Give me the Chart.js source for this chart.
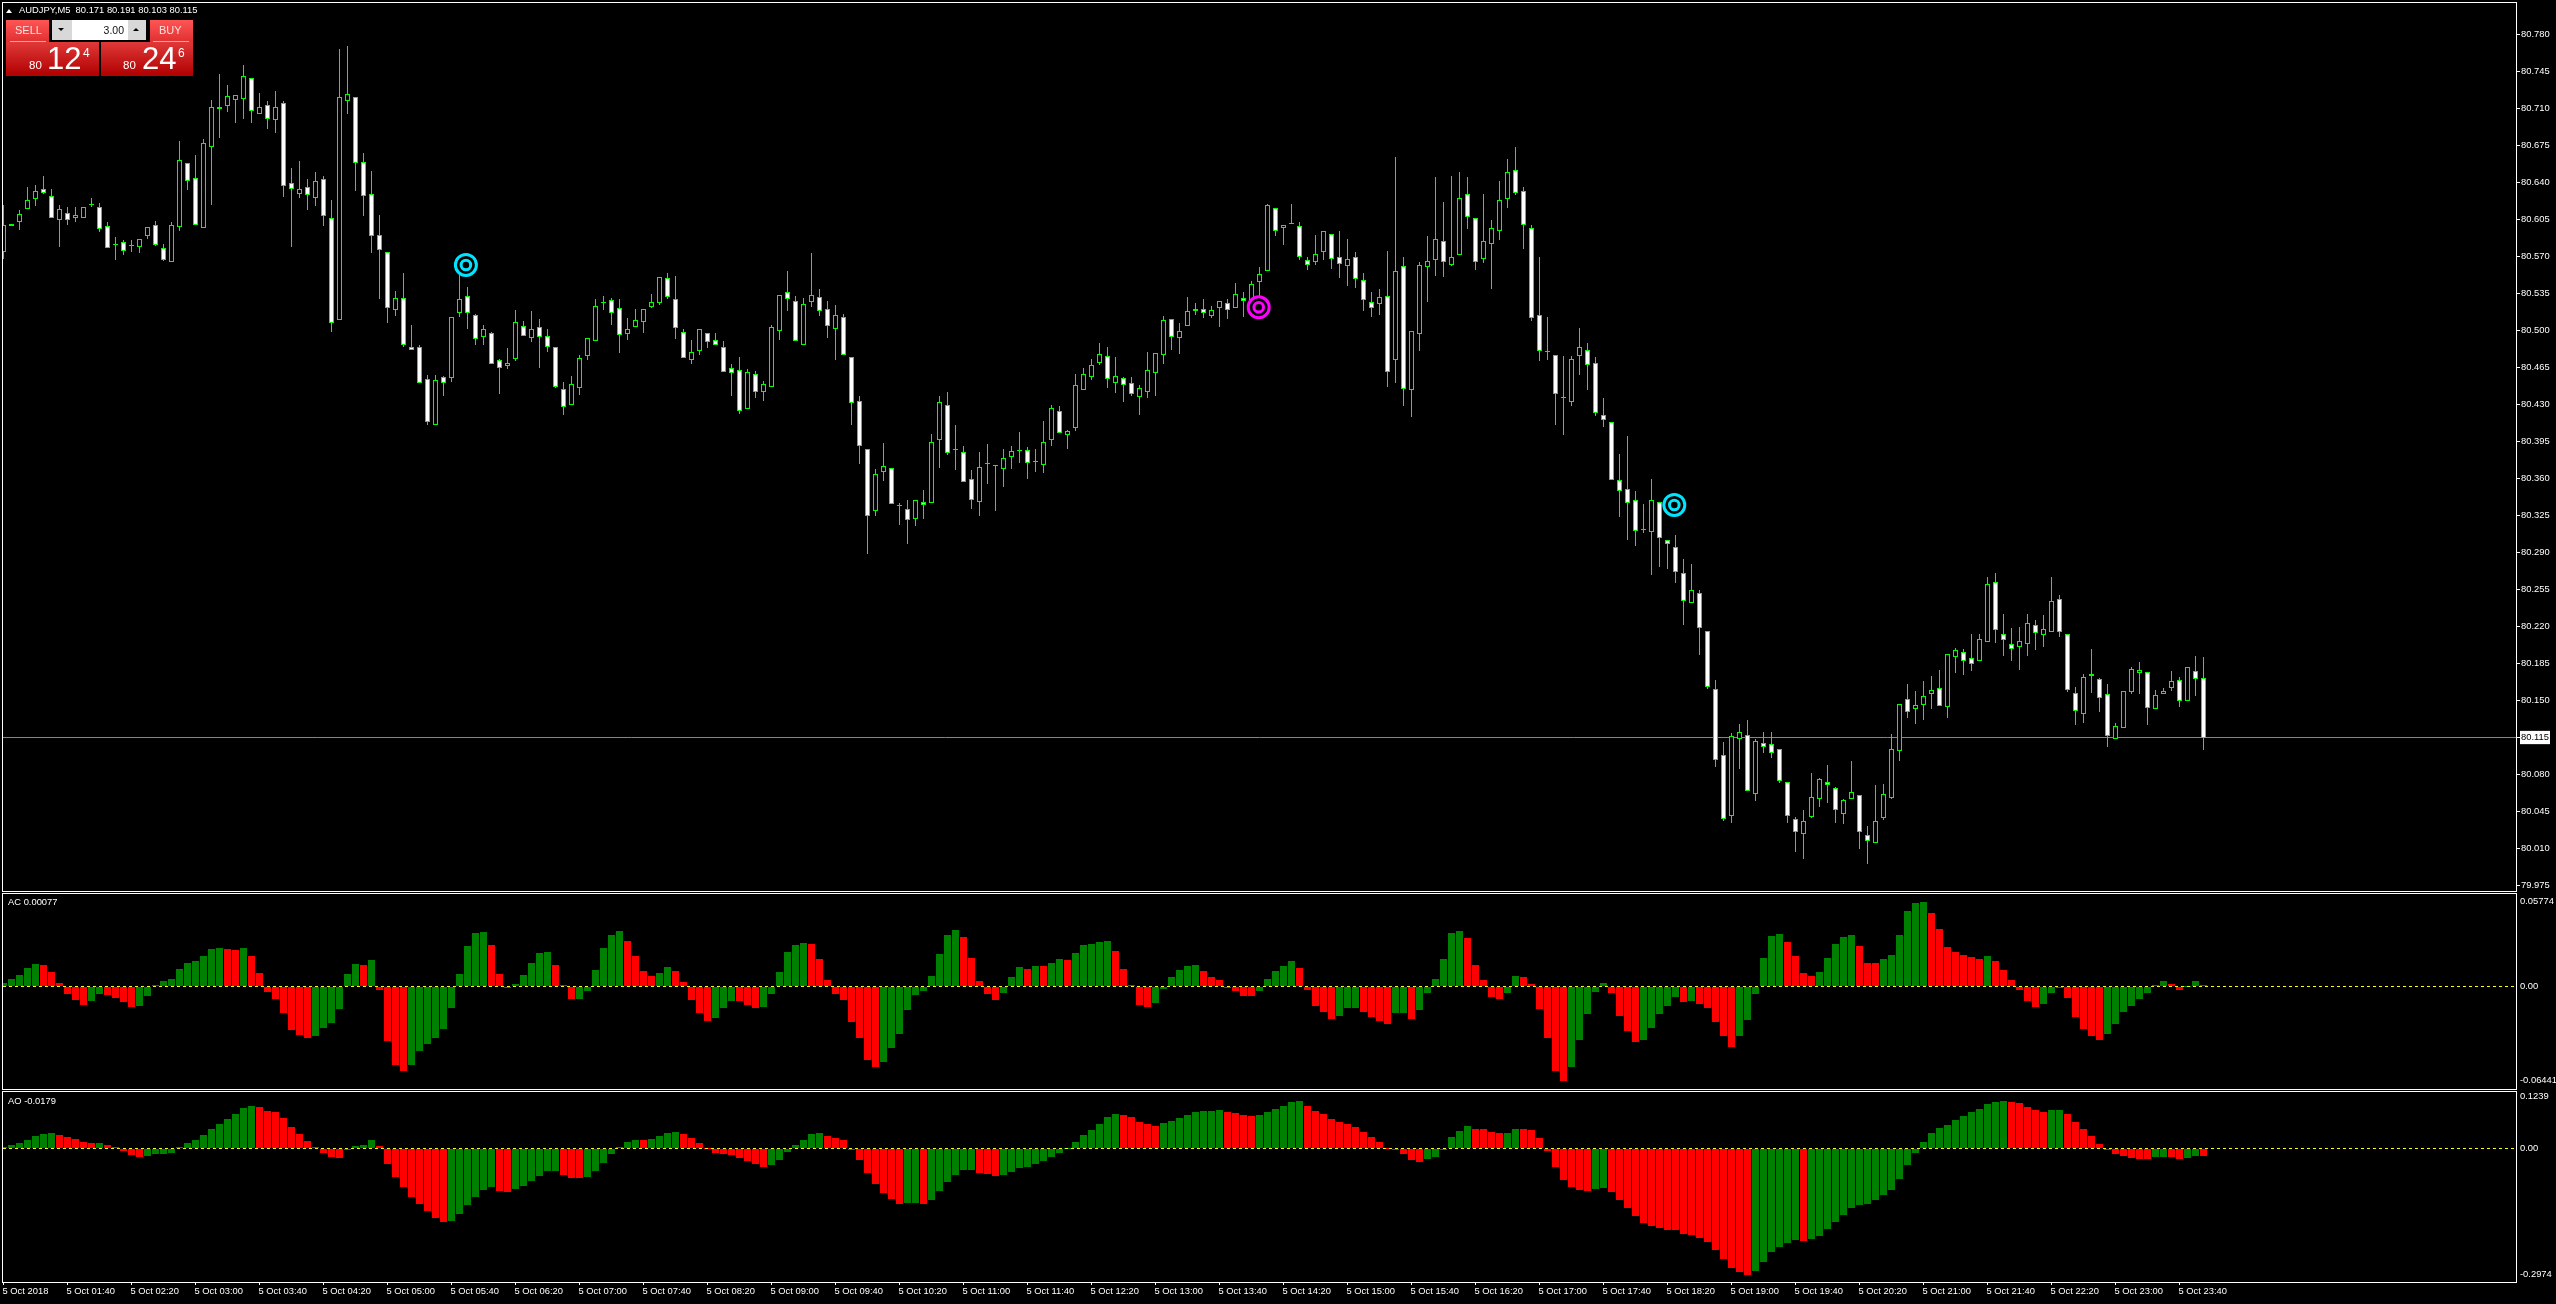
<!DOCTYPE html>
<html>
<head>
<meta charset="utf-8">
<title>AUDJPY,M5</title>
<script src="https://cdn.jsdelivr.net/npm/chart.js@4"></script>
<style>
html,body{margin:0;padding:0;background:#000;width:2556px;height:1304px;overflow:hidden}
canvas{position:absolute;left:0;display:block}
.t{position:absolute;font-family:"Liberation Sans",sans-serif;white-space:pre;line-height:1}
.b{position:absolute}
</style>
</head>
<body>
<canvas id="main" width="2556" height="892" style="top:0"></canvas>
<canvas id="ac" width="2556" height="198" style="top:892px"></canvas>
<canvas id="ao" width="2556" height="214" style="top:1090px"></canvas>

<div class="b" style="left:6px;top:9px;width:0;height:0;border-left:3.5px solid transparent;border-right:3.5px solid transparent;border-bottom:4px solid #fff"></div>
<div class="t" style="left:19px;top:5px;font-size:9.4px;color:#fff">AUDJPY,M5  80.171 80.191 80.103 80.115</div>

<div class="b" style="left:6px;top:20px;width:43px;height:22px;background:linear-gradient(#f55,#e03030)"></div>
<div class="b" style="left:10px;top:41px;width:36px;height:1px;background:#f8a0a0"></div>
<div class="t" style="left:15px;top:25px;font-size:11px;color:#fde0e0">SELL</div>
<div class="b" style="left:6px;top:42px;width:93px;height:34px;background:linear-gradient(#e03838,#b00000)"></div>
<div class="t" style="left:29px;top:60px;font-size:11.5px;color:#fff">80</div>
<div class="t" style="left:47px;top:43px;font-size:31px;color:#fff">12</div>
<div class="t" style="left:83px;top:47px;font-size:12px;color:#fff">4</div>

<div class="b" style="left:52px;top:20px;width:20px;height:20px;background:#d8d8d8"></div>
<div class="b" style="left:58px;top:28px;width:0;height:0;border-left:3px solid transparent;border-right:3px solid transparent;border-top:3px solid #000"></div>
<div class="b" style="left:72px;top:20px;width:56px;height:20px;background:#fff"></div>
<div class="t" style="left:72px;width:52px;top:25px;font-size:10.5px;color:#111;text-align:right">3.00</div>
<div class="b" style="left:128px;top:20px;width:18px;height:20px;background:#d8d8d8"></div>
<div class="b" style="left:133px;top:28px;width:0;height:0;border-left:3px solid transparent;border-right:3px solid transparent;border-bottom:3px solid #000"></div>

<div class="b" style="left:150px;top:20px;width:43px;height:22px;background:linear-gradient(#f55,#e03030)"></div>
<div class="b" style="left:153px;top:41px;width:36px;height:1px;background:#f8a0a0"></div>
<div class="t" style="left:159px;top:25px;font-size:11px;color:#fde0e0">BUY</div>
<div class="b" style="left:101px;top:42px;width:92px;height:34px;background:linear-gradient(#e03838,#b00000)"></div>
<div class="t" style="left:123px;top:60px;font-size:11.5px;color:#fff">80</div>
<div class="t" style="left:142px;top:43px;font-size:31px;color:#fff">24</div>
<div class="t" style="left:178px;top:47px;font-size:12px;color:#fff">6</div>

<div class="t" style="left:8px;top:897px;font-size:9.4px;color:#fff">AC 0.00077</div>
<div class="t" style="left:8px;top:1096px;font-size:9.4px;color:#fff">AO -0.0179</div>

<script>
const opens=[80.574,80.601,80.603,80.615,80.624,80.634,80.627,80.605,80.611,80.606,
80.606,80.619,80.617,80.599,80.582,80.584,80.581,80.579,80.589,80.600,
80.578,80.565,80.598,80.658,80.644,80.597,80.674,80.711,80.712,80.718,
80.719,80.739,80.705,80.713,80.699,80.715,80.640,80.629,80.636,80.625,
80.643,80.606,80.510,80.717,80.721,80.659,80.629,80.590,80.574,80.519,
80.531,80.484,80.484,80.454,80.411,80.456,80.455,80.517,80.533,80.515,
80.494,80.498,80.472,80.466,80.473,80.504,80.493,80.503,80.495,80.484,
80.445,80.430,80.446,80.476,80.490,80.527,80.529,80.521,80.497,80.503,
80.508,80.522,80.526,80.550,80.530,80.499,80.472,80.481,80.498,80.491,
80.484,80.465,80.463,80.426,80.459,80.442,80.447,80.500,80.536,80.528,
80.486,80.527,80.532,80.520,80.501,80.513,80.475,80.433,80.388,80.329,
80.366,80.370,80.334,80.331,80.322,80.338,80.337,80.396,80.430,80.388,
80.385,80.360,80.338,80.374,80.372,80.369,80.380,80.386,80.387,80.377,
80.373,80.396,80.424,80.401,80.408,80.444,80.456,80.469,80.476,80.450,
80.455,80.450,80.437,80.442,80.460,80.477,80.511,80.493,80.504,80.520,
80.520,80.514,80.521,80.526,80.521,80.531,80.529,80.546,80.556,80.616,
80.597,80.601,80.599,80.567,80.565,80.574,80.591,80.570,80.561,80.570,
80.548,80.527,80.525,80.533,80.472,80.561,80.444,80.497,80.560,80.567,
80.585,80.562,80.571,80.629,80.606,80.568,80.582,80.594,80.624,80.652,
80.632,80.597,80.515,80.481,80.477,80.437,80.432,80.476,80.482,80.469,
80.420,80.413,80.359,80.350,80.340,80.312,80.309,80.338,80.302,80.295,
80.271,80.242,80.252,80.216,80.161,80.098,80.041,80.114,80.117,80.062,
80.110,80.109,80.104,80.073,80.038,80.024,80.040,80.057,80.073,80.067,
80.043,80.057,80.061,80.023,80.015,80.039,80.058,80.102,80.151,80.142,
80.146,80.156,80.162,80.144,80.191,80.196,80.190,80.187,80.205,80.262,
80.213,80.203,80.201,80.203,80.221,80.212,80.215,80.246,80.213,80.157,
80.137,80.175,80.170,80.156,80.114,80.124,80.158,80.176,80.177,80.142,
80.156,80.162,80.169,80.150,80.178,80.171];
const closes=[80.600,80.599,80.610,80.623,80.632,80.630,80.606,80.615,80.605,80.609,
80.617,80.619,80.596,80.578,80.581,80.575,80.580,80.587,80.598,80.581,
80.567,80.600,80.661,80.641,80.600,80.677,80.711,80.710,80.722,80.723,
80.741,80.708,80.711,80.700,80.711,80.637,80.634,80.634,80.628,80.641,
80.608,80.507,80.721,80.724,80.658,80.627,80.589,80.576,80.521,80.531,
80.486,80.482,80.450,80.413,80.453,80.450,80.513,80.530,80.517,80.492,
80.501,80.468,80.465,80.469,80.508,80.495,80.501,80.494,80.484,80.447,
80.428,80.449,80.474,80.493,80.523,80.526,80.517,80.496,80.501,80.510,
80.520,80.527,80.551,80.532,80.502,80.474,80.480,80.501,80.489,80.486,
80.461,80.460,80.424,80.461,80.442,80.449,80.503,80.534,80.530,80.490,
80.525,80.534,80.518,80.504,80.515,80.477,80.431,80.391,80.325,80.364,
80.372,80.336,80.334,80.321,80.340,80.335,80.395,80.432,80.384,80.387,
80.357,80.340,80.371,80.374,80.372,80.379,80.386,80.386,80.375,80.376,
80.395,80.427,80.403,80.405,80.448,80.459,80.467,80.478,80.454,80.457,
80.448,80.440,80.446,80.463,80.479,80.510,80.494,80.500,80.518,80.518,
80.517,80.519,80.528,80.519,80.535,80.528,80.544,80.553,80.619,80.594,
80.600,80.601,80.570,80.562,80.572,80.594,80.568,80.563,80.568,80.549,
80.529,80.521,80.532,80.461,80.556,80.445,80.500,80.562,80.566,80.587,
80.565,80.570,80.625,80.607,80.565,80.585,80.597,80.623,80.650,80.630,
80.600,80.512,80.481,80.480,80.440,80.436,80.473,80.484,80.467,80.422,
80.415,80.359,80.348,80.337,80.310,80.311,80.340,80.304,80.298,80.272,
80.244,80.255,80.219,80.163,80.094,80.038,80.116,80.120,80.064,80.112,
80.106,80.100,80.074,80.041,80.026,80.036,80.059,80.076,80.070,80.046,
80.056,80.063,80.026,80.017,80.036,80.062,80.104,80.147,80.139,80.146,
80.154,80.160,80.145,80.194,80.198,80.187,80.185,80.208,80.260,80.217,
80.207,80.199,80.206,80.223,80.214,80.218,80.244,80.215,80.160,80.140,
80.172,80.173,80.152,80.116,80.126,80.159,80.180,80.179,80.143,80.155,
80.159,80.168,80.150,80.182,80.170,80.115];
const highs=[80.619,80.601,80.614,80.636,80.638,80.646,80.634,80.619,80.617,80.617,
80.617,80.625,80.621,80.603,80.588,80.586,80.586,80.587,80.598,80.604,
80.582,80.603,80.679,80.658,80.666,80.681,80.718,80.743,80.732,80.723,
80.751,80.739,80.725,80.717,80.727,80.717,80.654,80.660,80.643,80.650,
80.646,80.623,80.766,80.769,80.721,80.668,80.651,80.609,80.574,80.537,
80.554,80.505,80.486,80.458,80.458,80.457,80.513,80.554,80.541,80.516,
80.505,80.499,80.473,80.483,80.519,80.509,80.518,80.511,80.501,80.484,
80.451,80.457,80.477,80.493,80.530,80.533,80.531,80.530,80.512,80.520,
80.520,80.535,80.551,80.554,80.552,80.501,80.491,80.501,80.498,80.498,
80.490,80.468,80.475,80.464,80.462,80.452,80.505,80.534,80.556,80.533,
80.531,80.573,80.539,80.528,80.524,80.516,80.475,80.438,80.388,80.369,
80.394,80.370,80.337,80.340,80.340,80.349,80.402,80.438,80.442,80.411,
80.391,80.368,80.385,80.393,80.372,80.388,80.391,80.404,80.390,80.388,
80.414,80.430,80.429,80.406,80.459,80.465,80.473,80.488,80.484,80.475,
80.456,80.456,80.448,80.480,80.479,80.514,80.511,80.507,80.532,80.526,
80.530,80.523,80.528,80.530,80.545,80.536,80.547,80.560,80.620,80.616,
80.600,80.620,80.603,80.570,80.590,80.594,80.591,80.594,80.587,80.574,
80.554,80.536,80.539,80.575,80.664,80.570,80.500,80.565,80.589,80.645,
80.622,80.646,80.650,80.645,80.606,80.629,80.605,80.641,80.662,80.674,
80.636,80.600,80.570,80.513,80.477,80.476,80.476,80.502,80.488,80.475,
80.436,80.413,80.383,80.400,80.348,80.336,80.360,80.338,80.302,80.307,
80.284,80.279,80.255,80.216,80.169,80.111,80.119,80.128,80.132,80.114,
80.120,80.120,80.104,80.073,80.040,80.046,80.081,80.077,80.089,80.068,
80.057,80.093,80.061,80.031,80.070,80.071,80.118,80.147,80.166,80.159,
80.168,80.173,80.179,80.194,80.200,80.199,80.213,80.213,80.267,80.271,
80.232,80.219,80.220,80.232,80.226,80.231,80.267,80.250,80.213,80.163,
80.175,80.199,80.171,80.166,80.129,80.159,80.182,80.186,80.177,80.160,
80.162,80.178,80.172,80.182,80.192,80.191];
const lows=[80.568,80.599,80.595,80.615,80.618,80.629,80.606,80.579,80.600,80.603,
80.606,80.617,80.593,80.578,80.567,80.571,80.574,80.573,80.587,80.580,
80.566,80.565,80.594,80.633,80.600,80.597,80.619,80.682,80.707,80.696,
80.700,80.696,80.705,80.691,80.687,80.626,80.579,80.625,80.614,80.618,
80.599,80.499,80.510,80.705,80.632,80.608,80.573,80.530,80.507,80.514,
80.484,80.482,80.450,80.411,80.411,80.438,80.451,80.513,80.501,80.486,
80.486,80.468,80.440,80.464,80.471,80.495,80.489,80.465,80.480,80.446,
80.420,80.430,80.439,80.472,80.490,80.519,80.505,80.479,80.491,80.503,
80.498,80.521,80.524,80.530,80.492,80.474,80.468,80.477,80.483,80.486,
80.461,80.438,80.421,80.426,80.436,80.433,80.447,80.491,80.518,80.490,
80.486,80.522,80.514,80.493,80.472,80.477,80.411,80.374,80.289,80.325,
80.358,80.336,80.316,80.298,80.315,80.322,80.337,80.370,80.382,80.368,
80.357,80.331,80.325,80.355,80.329,80.352,80.369,80.375,80.360,80.366,
80.365,80.391,80.403,80.388,80.405,80.444,80.453,80.467,80.446,80.441,
80.432,80.438,80.420,80.436,80.438,80.468,80.482,80.478,80.504,80.515,
80.512,80.512,80.503,80.511,80.521,80.513,80.523,80.532,80.556,80.589,
80.581,80.601,80.567,80.557,80.562,80.567,80.558,80.550,80.542,80.540,
80.518,80.513,80.515,80.447,80.450,80.429,80.418,80.481,80.527,80.552,
80.551,80.561,80.571,80.596,80.557,80.564,80.539,80.586,80.616,80.628,
80.577,80.509,80.471,80.472,80.411,80.401,80.429,80.458,80.444,80.419,
80.409,80.359,80.324,80.302,80.296,80.308,80.269,80.276,80.274,80.261,
80.221,80.242,80.193,80.161,80.087,80.036,80.034,80.085,80.064,80.055,
80.100,80.096,80.072,80.034,80.007,80.000,80.039,80.049,80.053,80.034,
80.033,80.057,80.010,79.995,80.015,80.037,80.057,80.093,80.133,80.128,
80.132,80.142,80.145,80.133,80.176,80.174,80.178,80.187,80.205,80.204,
80.192,80.187,80.179,80.192,80.198,80.201,80.215,80.210,80.158,80.127,
80.129,80.157,80.139,80.106,80.114,80.124,80.156,80.156,80.127,80.142,
80.156,80.159,80.144,80.150,80.154,80.103];

const acValues=[0.0023,0.0050,0.0077,0.0125,0.0152,0.0146,0.0098,0.0023,-0.0052,-0.0093,
-0.0127,-0.0100,-0.0052,-0.0059,-0.0080,-0.0107,-0.0141,-0.0134,-0.0066,0.0009,
0.0036,0.0050,0.0118,0.0159,0.0173,0.0207,0.0255,0.0262,0.0255,0.0248,
0.0262,0.0207,0.0091,-0.0039,-0.0086,-0.0182,-0.0298,-0.0332,-0.0353,-0.0339,
-0.0284,-0.0250,-0.0155,0.0084,0.0152,0.0146,0.0180,-0.0025,-0.0373,-0.0537,
-0.0578,-0.0537,-0.0441,-0.0394,-0.0353,-0.0291,-0.0148,0.0084,0.0275,0.0364,
0.0371,0.0282,0.0084,-0.0011,0.0016,0.0077,0.0159,0.0228,0.0234,0.0146,
0.0009,-0.0086,-0.0086,-0.0032,0.0111,0.0262,0.0350,0.0378,0.0309,0.0207,
0.0105,0.0071,0.0091,0.0132,0.0105,0.0030,-0.0093,-0.0182,-0.0237,-0.0216,
-0.0148,-0.0100,-0.0100,-0.0127,-0.0148,-0.0141,-0.0052,0.0098,0.0234,0.0282,
0.0296,0.0289,0.0187,0.0043,-0.0052,-0.0093,-0.0243,-0.0353,-0.0503,-0.0551,
-0.0516,-0.0421,-0.0325,-0.0162,-0.0059,-0.0032,0.0071,0.0221,0.0350,0.0384,
0.0337,0.0193,0.0036,-0.0052,-0.0093,-0.0046,0.0064,0.0132,0.0118,0.0139,
0.0139,0.0159,0.0187,0.0180,0.0228,0.0282,0.0289,0.0303,0.0309,0.0241,
0.0118,0.0009,-0.0127,-0.0141,-0.0114,-0.0018,0.0064,0.0111,0.0139,0.0146,
0.0105,0.0064,0.0043,-0.0011,-0.0032,-0.0066,-0.0066,-0.0032,0.0050,0.0105,
0.0139,0.0173,0.0125,-0.0025,-0.0134,-0.0175,-0.0223,-0.0202,-0.0148,-0.0148,
-0.0175,-0.0209,-0.0237,-0.0257,-0.0182,-0.0182,-0.0223,-0.0162,-0.0046,0.0050,
0.0187,0.0364,0.0378,0.0330,0.0146,0.0043,-0.0073,-0.0086,-0.0046,0.0071,
0.0064,0.0016,-0.0155,-0.0353,-0.0578,-0.06441,-0.0551,-0.0366,-0.0189,-0.0039,
0.0023,-0.0046,-0.0202,-0.0305,-0.0380,-0.0366,-0.0284,-0.0189,-0.0134,-0.0073,
-0.0107,-0.0100,-0.0121,-0.0148,-0.0243,-0.0339,-0.0414,-0.0339,-0.0230,-0.0052,
0.0193,0.0344,0.0357,0.0303,0.0207,0.0091,0.0071,0.0098,0.0193,0.0289,
0.0337,0.0350,0.0275,0.0159,0.0159,0.0187,0.0214,0.0350,0.0514,0.0569,
0.05774,0.0501,0.0391,0.0268,0.0234,0.0214,0.0200,0.0187,0.0207,0.0173,
0.0111,0.0043,-0.0025,-0.0100,-0.0141,-0.0121,-0.0046,-0.0001,-0.0080,-0.0209,
-0.0291,-0.0339,-0.0366,-0.0325,-0.0257,-0.0175,-0.0134,-0.0086,-0.0046,0.0009,
0.0036,0.0016,-0.0025,0.0002,0.0036,0.00077];
const acColors=("GGGGGRRRRR"+"RGGRRRRGGG"+"GGGGGGGGRR"+"GRRRRRRRRG"+"GGGGGRGRRR"+"RGGGGGGGGG"+"GRRRGGGGGR"+"RRGGGGGGRR"
+"RRGGRRRRRG"+"GGRRRGGGGG"+"GRRRRRRRRR"+"GGGGGGGGGG"+"RRRRRGGGRG"+"RGGRGGGGGR"+"RRRRGGGGGG"+"RRRRRRRGGG"
+"GGRRRRRGGG"+"RRRRGGRGGG"+"GGGRRRRRGG"+"RRRRRRGGGG"+"GRRRRGGGGG"+"RGRRRRRGGG"+"GGGRRRRGGG"+"GGRRRGGGGG"
+"GRRRRRRRGR"+"RRRRRGGRRR"+"RRRGGGGGGG"+"GRRGGR").split("");

const aoValues=[0.0047,0.0079,0.0126,0.0197,0.0291,0.0338,0.0362,0.0314,0.0267,0.0220,
0.0149,0.0126,0.0126,0.0079,0.0031,-0.0063,-0.0157,-0.0204,-0.0181,-0.0134,
-0.0134,-0.0110,0.0031,0.0126,0.0197,0.0314,0.0456,0.0574,0.0692,0.0810,
0.0951,0.0998,0.0975,0.0880,0.0857,0.0715,0.0503,0.0338,0.0173,0.0031,
-0.0110,-0.0204,-0.0228,-0.0039,0.0055,0.0079,0.0197,0.0055,-0.0369,-0.0676,
-0.0912,-0.1148,-0.1313,-0.1478,-0.1643,-0.1737,-0.1713,-0.1548,-0.1336,-0.1148,
-0.0983,-0.0912,-0.1006,-0.1030,-0.0959,-0.0888,-0.0770,-0.0652,-0.0534,-0.0534,
-0.0629,-0.0700,-0.0700,-0.0676,-0.0534,-0.0346,-0.0134,0.0047,0.0149,0.0197,
0.0197,0.0220,0.0291,0.0362,0.0385,0.0338,0.0244,0.0126,0,-0.0110,
-0.0134,-0.0157,-0.0228,-0.0299,-0.0369,-0.0440,-0.0393,-0.0275,-0.0086,0.0079,
0.0197,0.0338,0.0362,0.0291,0.0244,0.0197,-0.0039,-0.0275,-0.0582,-0.0841,
-0.1053,-0.1195,-0.1313,-0.1289,-0.1289,-0.1313,-0.1218,-0.1006,-0.0794,-0.0629,
-0.0511,-0.0511,-0.0582,-0.0605,-0.0652,-0.0629,-0.0558,-0.0464,-0.0440,-0.0369,
-0.0299,-0.0204,-0.0110,0,0.0149,0.0314,0.0432,0.0574,0.0739,0.0810,
0.0786,0.0739,0.0621,0.0574,0.0527,0.0597,0.0645,0.0715,0.0786,0.0857,
0.0880,0.0880,0.0904,0.0857,0.0833,0.0786,0.0762,0.0786,0.0857,0.0927,
0.0998,0.1093,0.1116,0.0998,0.0880,0.0810,0.0692,0.0621,0.0574,0.0503,
0.0385,0.0267,0.0149,0,-0.0039,-0.0134,-0.0275,-0.0322,-0.0252,-0.0204,
-0.0039,0.0267,0.0409,0.0527,0.0456,0.0456,0.0385,0.0362,0.0362,0.0456,
0.0456,0.0432,0.0244,-0.0063,-0.0440,-0.0747,-0.0912,-0.0983,-0.1006,-0.0959,
-0.0935,-0.1030,-0.1218,-0.1407,-0.1596,-0.1761,-0.1831,-0.1879,-0.1926,-0.1926,
-0.2020,-0.2044,-0.2114,-0.2209,-0.2397,-0.2610,-0.2822,-0.2916,-0.2974,-0.2892,
-0.2680,-0.2444,-0.2327,-0.2232,-0.2162,-0.2185,-0.2138,-0.2067,-0.1902,-0.1737,
-0.1572,-0.1407,-0.1336,-0.1313,-0.1218,-0.1100,-0.0983,-0.0723,-0.0393,-0.0110,
0.0149,0.0362,0.0479,0.0550,0.0668,0.0762,0.0857,0.0927,0.1045,0.1093,
0.1116,0.1093,0.1069,0.0975,0.0904,0.0857,0.0904,0.0904,0.0810,0.0621,
0.0456,0.0291,0.0102,-0.0039,-0.0134,-0.0181,-0.0228,-0.0252,-0.0252,-0.0204,
-0.0204,-0.0204,-0.0252,-0.0228,-0.0181,-0.0179];
const aoColors=("GGGGGGGRRR"+"RRGRRRRRGG"+"GGGGGGGGGG"+"GGRRRRRRRR"+"RRRGGGGRRR"+"RRRRRRGGGG"+"GGRRGGGGGG"+"RRRGGGGGGG"
+"RGGGGRRRRR"+"RRRRRRGGGG"+"GGGRRRRRRR"+"RRRGGRGGGG"+"GGRRRGGGGG"+"GGGGGGGGGG"+"RRRRRGGGGG"+"GGGRRRRGGG"
+"GGGRRRRRRR"+"RRRRRRRRGG"+"GGGGRRRRGG"+"RRRRRRRRRG"+"GRRRRRRRRR"+"RRRRRRRRRG"+"GGGGGRGGGG"+"GGGGGGGGGG"
+"GGGGGGGGGG"+"GRRRRRGGRR"+"RRRRRRRRRG"+"GRRGGR").split("");

const timeTickLabels=["5 Oct 2018","5 Oct 01:40","5 Oct 02:20","5 Oct 03:00","5 Oct 03:40","5 Oct 04:20","5 Oct 05:00",
"5 Oct 05:40","5 Oct 06:20","5 Oct 07:00","5 Oct 07:40","5 Oct 08:20","5 Oct 09:00","5 Oct 09:40","5 Oct 10:20",
"5 Oct 11:00","5 Oct 11:40","5 Oct 12:20","5 Oct 13:00","5 Oct 13:40","5 Oct 14:20","5 Oct 15:00","5 Oct 15:40",
"5 Oct 16:20","5 Oct 17:00","5 Oct 17:40","5 Oct 18:20","5 Oct 19:00","5 Oct 19:40","5 Oct 20:20","5 Oct 21:00",
"5 Oct 21:40","5 Oct 22:20","5 Oct 23:00","5 Oct 23:40"];
const priceTicks=[80.780,80.745,80.710,80.675,80.640,80.605,80.570,80.535,80.500,80.465,80.430,80.395,80.360,80.325,
80.290,80.255,80.220,80.185,80.150,80.115,80.080,80.045,80.010,79.975];
const bidPrice=80.115;
const acTicks=[0.05774,0,-0.06441];
const acTickLabels=["0.05774","0.00","-0.06441"];
const aoTicks=[0.1239,0,-0.2974];
const aoTickLabels=["0.1239","0.00","-0.2974"];
const targetBars=[57.8,156.9,208.85];
const targetPrices=[80.562,80.522,80.335];
const targetColors=["#00e5ff","#ff00ff","#00e5ff"];

const GREEN="#008000",RED="#ff0000",LIME="#00ff00";
const xMin=-0.0625,xMax=314.0625;
const FONT="Liberation Sans";
const barIndex=opens.map((_,i)=>i);

const pixelSnap={id:"pixelSnap",afterDatasetsUpdate(chart){
  chart.data.datasets.forEach((d,di)=>{
    const meta=chart.getDatasetMeta(di);
    if(meta.type!=="bar")return;
    meta.data.forEach(el=>{
      el.y=Math.round(el.y);el.base=Math.round(el.base);
      if(el.y===el.base)el.base=el.y+1;
    });
  });
}};
const paneFrame={id:"paneFrame",afterDraw(chart){
  const a=chart.chartArea,c=chart.ctx;
  c.save();c.strokeStyle="#fff";c.lineWidth=1;
  c.strokeRect(a.left-.5,a.top-.5,a.right-a.left+1,a.bottom-a.top+1);
  c.restore();
}};
function fitY(s){s.width=40;s.paddingTop=0;s.paddingBottom=0;s.paddingLeft=0;s.paddingRight=0;}
function fitX(s){s.height=22;s.paddingTop=0;s.paddingBottom=0;s.paddingLeft=0;s.paddingRight=0;}
function fitNone(s){s.height=0;s.paddingTop=0;s.paddingBottom=0;s.paddingLeft=0;s.paddingRight=0;}

function baseOptions(padding,showX){
  return {
    responsive:false,animation:false,devicePixelRatio:1,maintainAspectRatio:false,
    layout:{padding,autoPadding:false},
    plugins:{legend:{display:false},tooltip:{enabled:false},title:{display:false}},
    events:[],
    scales:{
      x:{type:"linear",min:xMin,max:xMax,offset:false,display:showX,
        afterBuildTicks(s){s.ticks=timeTickLabels.map((_,k)=>({value:k*8}));},
        afterFit:showX?fitX:fitNone,
        border:{display:false},
        grid:{display:true,drawOnChartArea:false,tickLength:3,tickColor:"#fff",color:"#fff",offset:false},
        ticks:{autoSkip:false,maxRotation:0,minRotation:0,align:"start",padding:1,labelOffset:-1,color:"#fff",
          font:{family:FONT,size:9.4},callback:(v,i)=>timeTickLabels[i]}
      }
    }
  };
}
function oscillatorChart(id,values,colors,ticks,tickLabels,min,max,padding,showX){
  const options=baseOptions(padding,showX);
  options.scales.y={type:"linear",position:"right",min,max,
    afterBuildTicks(s){s.ticks=ticks.map(v=>({value:v}));},afterFit:fitY,
    border:{display:false},
    grid:{display:true,drawOnChartArea:false,drawTicks:false,color:"#fff"},
    ticks:{padding:4,color:"#fff",autoSkip:false,font:{family:FONT,size:9.4},callback:(v,i)=>tickLabels[i]}};
  return new Chart(document.getElementById(id),{
    type:"bar",
    data:{datasets:[
      {type:"line",order:0,data:[{x:xMin,y:0},{x:xMax,y:0}],borderColor:"#ffff00",borderWidth:1,borderDash:[3,3],pointRadius:0},
      {type:"bar",order:1,data:barIndex.map(i=>({x:i,y:values[i]})),barThickness:7,grouped:false,inflateAmount:0,borderWidth:0,
        backgroundColor:colors.map(c=>c==="G"?GREEN:RED)}
    ]},
    options,plugins:[pixelSnap,paneFrame]
  });
}

const mainOptions=baseOptions({left:3,top:3,bottom:1,right:0},false);
mainOptions.scales.y={type:"linear",position:"right",min:79.9698,max:80.8098,
  afterBuildTicks(s){s.ticks=priceTicks.map(v=>({value:v}));},afterFit:fitY,
  border:{display:false},
  grid:{display:true,drawOnChartArea:false,tickLength:4,tickColor:"#fff",color:"#fff"},
  ticks:{padding:1,autoSkip:false,font:{family:FONT,size:9.4},
    color:c=>Math.abs(c.tick.value-bidPrice)<1e-6?"#000":"#fff",
    showLabelBackdrop:c=>Math.abs(c.tick.value-bidPrice)<1e-6,
    backdropColor:c=>Math.abs(c.tick.value-bidPrice)<1e-6?"#fff":"rgba(0,0,0,0)",
    backdropPadding:1,
    callback:v=>v.toFixed(3)}};

new Chart(document.getElementById("main"),{
  type:"bar",
  data:{datasets:[
    {type:"line",order:0,showLine:false,data:targetBars.map((x,k)=>({x,y:targetPrices[k]})),
      pointRadius:4.8,pointBorderWidth:3,pointBackgroundColor:"#000",pointBorderColor:targetColors},
    {type:"line",order:1,showLine:false,data:targetBars.map((x,k)=>({x,y:targetPrices[k]})),
      pointRadius:10.5,pointBorderWidth:3,pointBackgroundColor:"#000",pointBorderColor:targetColors},
    {type:"bar",order:2,data:barIndex.map(i=>({x:i,y:[opens[i],closes[i]]})),barThickness:5,grouped:false,minBarLength:1,
      inflateAmount:0,borderWidth:1,borderSkipped:false,borderColor:LIME,
      backgroundColor:barIndex.map(i=>closes[i]<opens[i]?"#fff":"#000")},
    {type:"bar",order:3,data:barIndex.map(i=>({x:i,y:[lows[i],highs[i]]})),barThickness:1,grouped:false,
      inflateAmount:0,borderWidth:0,backgroundColor:LIME},
    {type:"line",order:4,data:[{x:xMin,y:bidPrice},{x:xMax,y:bidPrice}],borderColor:"#778899",borderWidth:1,pointRadius:0}
  ]},
  options:mainOptions,plugins:[pixelSnap,paneFrame]
});
oscillatorChart("ac",acValues,acColors,acTicks,acTickLabels,-0.06997,0.06314,{left:3,top:2,bottom:1,right:0},false);
oscillatorChart("ao",aoValues,aoColors,aoTicks,aoTickLabels,-0.31486,0.13325,{left:3,top:2,bottom:0,right:0},true);
</script>
</body>
</html>
